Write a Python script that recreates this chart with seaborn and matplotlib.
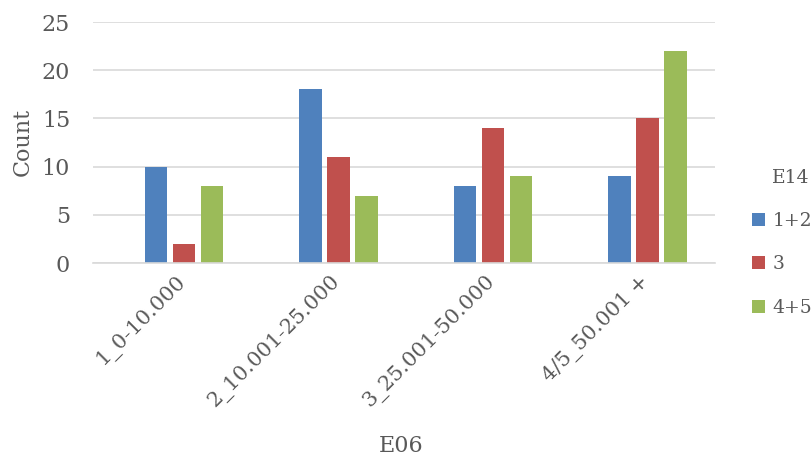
import matplotlib
matplotlib.use("Agg")
import matplotlib.pyplot as plt
import matplotlib.transforms as mtrans
import seaborn as sns
import pandas as pd

categories = ["1_0-10.000", "2_10.001-25.000", "3_25.001-50.000", "4/5_50.001 +"]
series_names = ["1+2", "3", "4+5"]
vals_12 = [10, 18, 8, 9]
vals_3 = [2, 11, 14, 15]
vals_45 = [8, 7, 9, 22]
colors = ["#4F81BD", "#C0504D", "#9BBB59"]

rows = []
for name, vals in zip(series_names, [vals_12, vals_3, vals_45]):
    for c, v in zip(categories, vals):
        rows.append({"E06": c, "E14": name, "Count": v})
df = pd.DataFrame(rows)

sns.set_style("white")
plt.rcParams["font.family"] = ["DejaVu Serif"]
txt = "#595959"
W, H = 811, 459

fig = plt.figure(figsize=(W / 100, H / 100), dpi=100)
ax = fig.add_axes([93 / W, 1 - 263 / H, (715 - 93) / W, (263 - 22) / H])
sns.barplot(data=df, x="E06", y="Count", hue="E14", palette=colors,
            width=0.544, gap=0.21, linewidth=0, ax=ax, saturation=1)

ax.set_xlim(-0.589, 3.437)
ax.set_ylim(0, 25)
ax.set_yticks([0, 5, 10, 15, 20, 25])
ax.yaxis.grid(True, color="#D9D9D9", linewidth=1.2)
ax.set_axisbelow(True)
for s in ["top", "right", "left"]:
    ax.spines[s].set_visible(False)
ax.spines["bottom"].set_color("#D9D9D9")
ax.spines["bottom"].set_linewidth(1.2)
ax.tick_params(axis="y", length=0, labelsize=16, colors=txt, pad=16.5)
ax.tick_params(axis="x", length=0, labelsize=15, colors=txt, pad=6)
plt.setp(ax.get_xticklabels(), rotation=45, ha="right", rotation_mode="anchor")
off = mtrans.ScaledTranslation(-8 / 100, 0, fig.dpi_scale_trans)
for lab in ax.get_xticklabels():
    lab.set_transform(lab.get_transform() + off)

ax.set_ylabel("Count", fontsize=16, color=txt)
ax.yaxis.set_label_coords(23 / W, 1 - 142 / H, transform=fig.transFigure)
ax.yaxis.label.set_va("center")
ax.set_xlabel("E06", fontsize=16, color=txt)
ax.xaxis.set_label_coords(401 / W, 1 - 446 / H, transform=fig.transFigure)
ax.xaxis.label.set_va("center")

fig.text(772 / W, 1 - 178 / H, "E14", fontsize=13.5, color=txt, va="center", ha="left")
leg = ax.legend(title=None, loc="upper left", bbox_to_anchor=(752 / W, 1 - 212 / H),
                bbox_transform=fig.transFigure, frameon=False, fontsize=13.5,
                handlelength=0.7, handleheight=0.7, borderpad=0, borderaxespad=0,
                handletextpad=0.4, labelspacing=1.35)
for t in leg.get_texts():
    t.set_color(txt)

fig.savefig("out.png", dpi=100)
